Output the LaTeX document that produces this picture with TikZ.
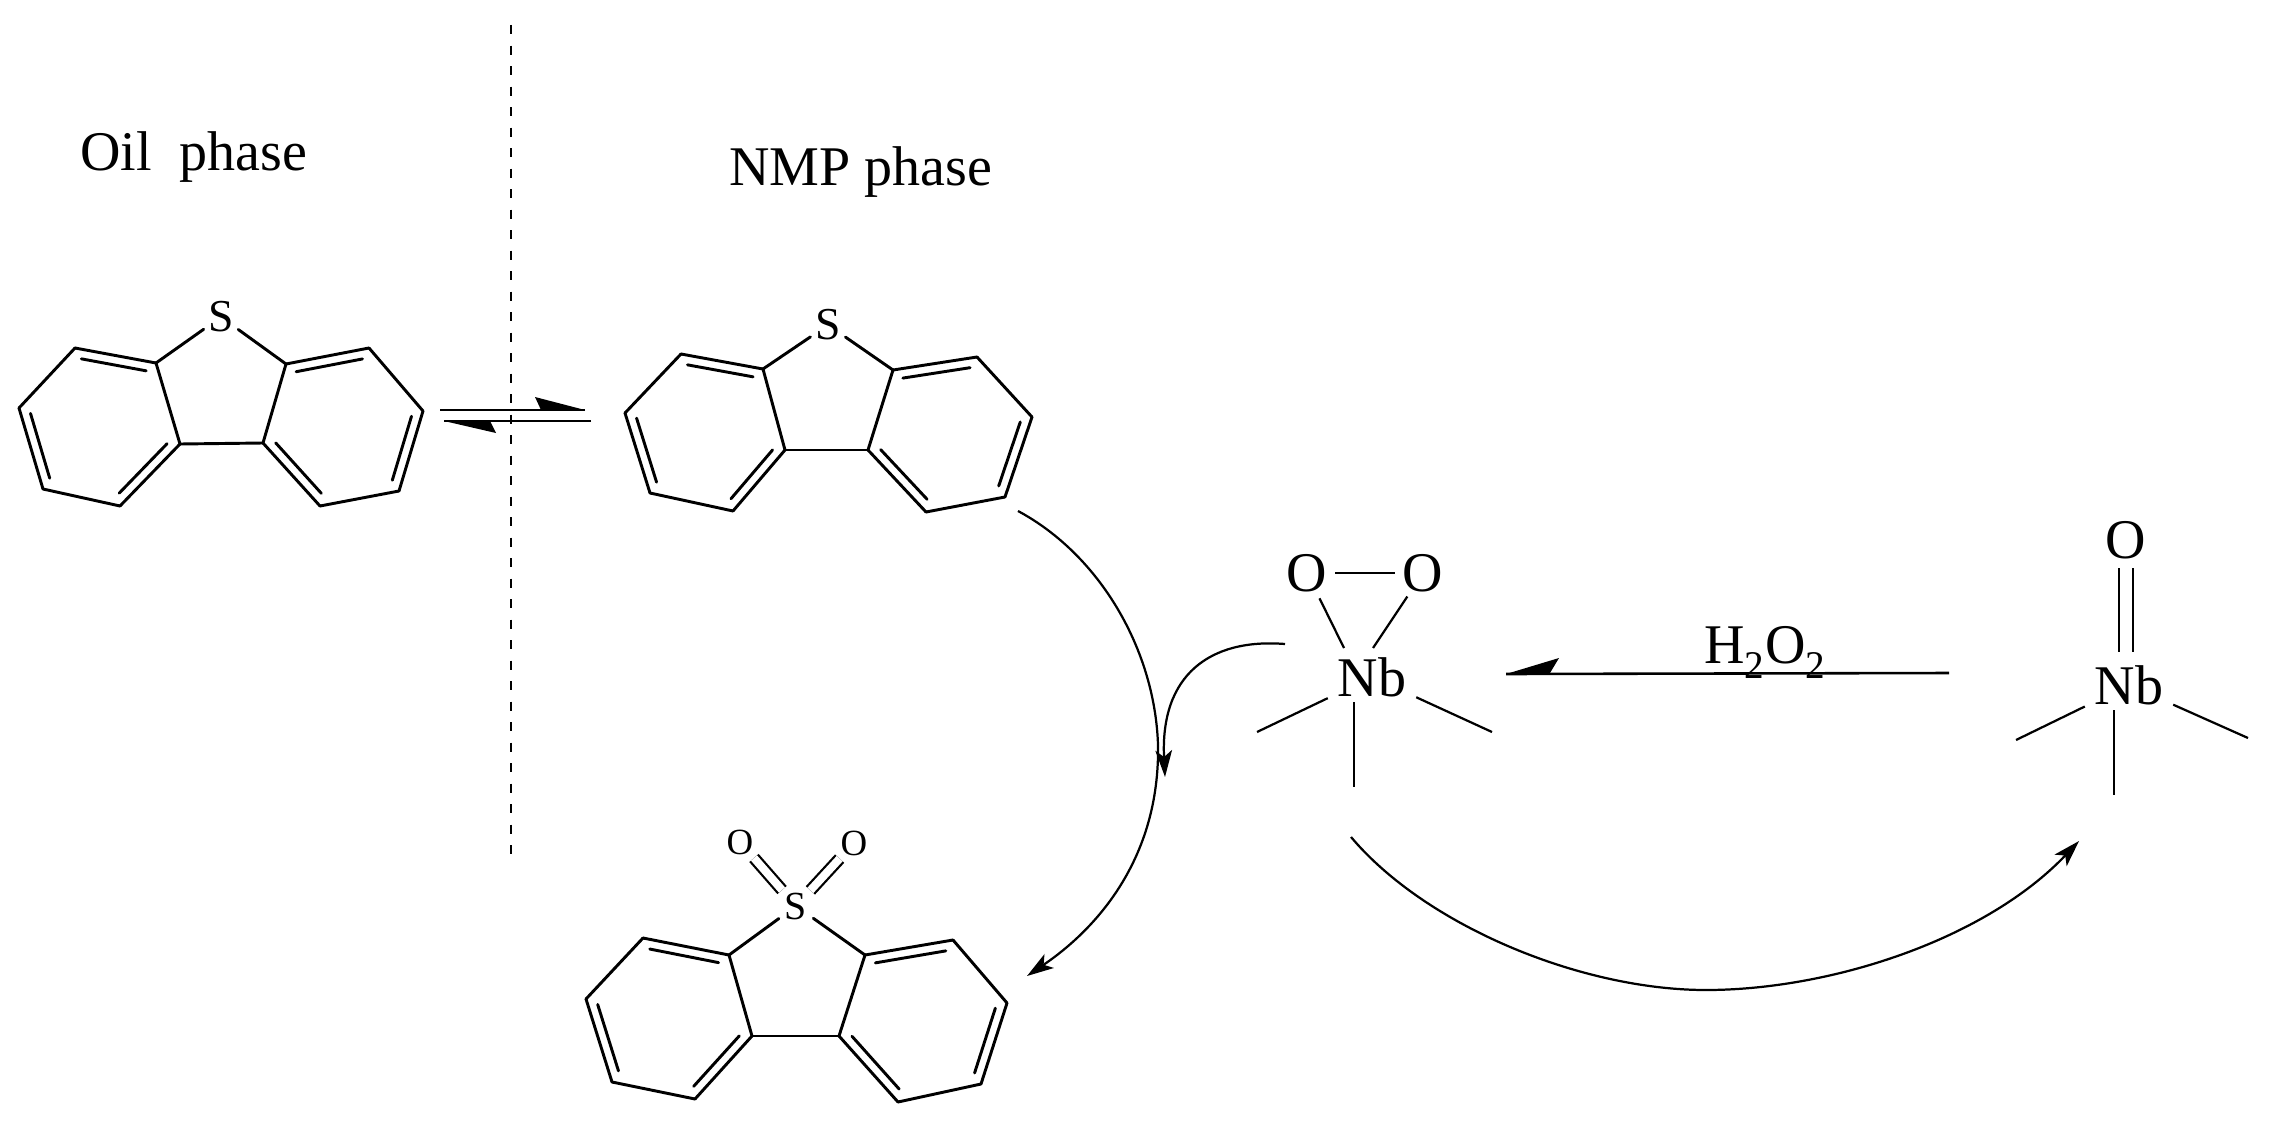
\documentclass[tikz,border=0pt]{standalone}
\usepackage{fontspec}
\setmainfont{Liberation Serif}
\usetikzlibrary{calc,arrows.meta}
\tikzset{
  bond/.style={line width=2.5pt,line cap=round},
  thinbond/.style={line width=1.9pt},
  dblbond/.style={line width=1.9pt,double,double distance=0.24cm},
  curve/.style={line width=1.9pt,-{Stealth[length=0.8cm,width=0.5cm,inset=0.2cm]}},
  smallatom/.style={circle,inner sep=0pt,minimum size=1.26cm,font=\fontsize{31.5}{33}\selectfont},
  sulfur/.style={smallatom,font=\fontsize{39}{41}\selectfont},
  bigatom/.style={circle,inner sep=0pt,minimum size=1.68cm,font=\fontsize{47.8}{50}\selectfont},
  metal/.style={rectangle,inner sep=0pt,minimum width=2.64cm,minimum height=1.5cm,font=\fontsize{47.8}{50}\selectfont},
  label/.style={inner sep=0pt,anchor=base west,font=\fontsize{47.8}{50}\selectfont},
  barb/.style={fill=black,draw=none}
}
% double ring bond: outer line and inner line towards the ring centre
\newcommand{\dbl}[2]{%
  \draw[bond] (#1) -- (#2);
  \draw[bond] ($(#1)!.1!(#2)!0.285cm!-90:(#2)$) -- ($(#1)!.9!(#2)!0.285cm!-90:(#2)$);
}
% whole ring skeleton, from the coordinates named with prefix #1
\newcommand{\skeleton}[1]{%
  \draw[bond] (#1S) -- (#1a1);
  \draw[bond] (#1S) -- (#1a2);
  \draw[bond] (#1a1) -- (#1a3);
  \draw[bond] (#1a2) -- (#1a4);
  \draw[bond] (#1a3) -- (#1a4);
  \dbl{#1l1}{#1a1}
  \draw[bond] (#1l4) -- (#1l1);
  \dbl{#1a3}{#1l2}
  \draw[bond] (#1l2) -- (#1l3);
  \dbl{#1l3}{#1l4}
  \dbl{#1a2}{#1r1}
  \draw[bond] (#1r1) -- (#1r2);
  \dbl{#1r2}{#1r3}
  \draw[bond] (#1r3) -- (#1r4);
  \dbl{#1r4}{#1a4}
}
\begin{document}
\begin{tikzpicture}[x=0.03cm,y=-0.03cm]
\useasboundingbox (0,0) rectangle (2273,1122);
\fill[white] (0,0) rectangle (2273,1122);

% labels
\node[label] (oil) at (80,170) {Oil\ \ phase};
\node[label] (nmp) at (729,185) {NMP phase};

% phase boundary
\coordinate (divtop) at (511,25);
\coordinate (divbot) at (511,860);
\draw[line width=1.6pt,dash pattern=on 0.27cm off 0.345cm] (divtop) -- (divbot);

% molecule 1
\node[sulfur] (mS) at (221,317) {S};
\coordinate (ma1) at (156,363); \coordinate (ma2) at (286,364);
\coordinate (ma3) at (180,444); \coordinate (ma4) at (263,443);
\coordinate (ml1) at (75,348);  \coordinate (ml4) at (19,408);
\coordinate (ml3) at (43,489);  \coordinate (ml2) at (120,506);
\coordinate (mr1) at (369,348); \coordinate (mr2) at (423,411);
\coordinate (mr3) at (399,491); \coordinate (mr4) at (320,506);
\skeleton{m}

% molecule 2
\node[sulfur] (nS) at (828,325) {S};
\coordinate (na1) at (763,369); \coordinate (na2) at (893,370);
\coordinate (na3) at (785,450); \coordinate (na4) at (868,450);
\coordinate (nl1) at (681,354); \coordinate (nl4) at (625,413);
\coordinate (nl3) at (650,493); \coordinate (nl2) at (733,511);
\coordinate (nr1) at (977,357); \coordinate (nr2) at (1032,417);
\coordinate (nr3) at (1005,497);\coordinate (nr4) at (926,512);
\skeleton{n}

% molecule 3 (sulfone)
\node[smallatom,font=\fontsize{34}{36}\selectfont] (pS) at (796,906) {S};
\node[smallatom] (pO1) at (740,842) {O};
\node[smallatom] (pO2) at (854,843) {O};
\coordinate (pa1) at (729,955); \coordinate (pa2) at (865,955);
\coordinate (pa3) at (752,1036);\coordinate (pa4) at (839,1036);
\coordinate (pl1) at (643,938); \coordinate (pl4) at (586,999);
\coordinate (pl3) at (612,1082);\coordinate (pl2) at (695,1099);
\coordinate (pr1) at (953,940); \coordinate (pr2) at (1007,1003);
\coordinate (pr3) at (981,1084);\coordinate (pr4) at (898,1102);
\skeleton{p}
\draw[dblbond] (pS) -- (pO1);
\draw[dblbond] (pS) -- (pO2);

% equilibrium half arrows
\coordinate (e1a) at (440,410); \coordinate (e1b) at (585,410);
\coordinate (e2a) at (591,421); \coordinate (e2b) at (444,421);
\draw[line width=2.2pt] (e1a) -- (e1b);
\draw[line width=2.2pt] (e2a) -- (e2b);
\fill[barb] (e1b) -- (535,397) -- (541,410) -- cycle;
\fill[barb] (e2b) -- (496,433) -- (490,421) -- cycle;

% peroxo niobium
\node[metal] (nbA) at (1372,677) {Nb};
\node[bigatom] (oA1) at (1307,573) {O};
\node[bigatom] (oA2) at (1423,573) {O};
\coordinate (oA1e) at (1344,648);
\coordinate (oA2e) at (1373,648);
\coordinate (nbAl) at (1257,732);
\coordinate (nbAr) at (1492,732);
\coordinate (nbAd) at (1354,787);
\draw[thinbond] (oA1) -- (oA2);
\draw[thinbond] (oA1) -- (oA1e);
\draw[thinbond] (oA2) -- (oA2e);
\draw[thinbond] (nbA) -- (nbAl);
\draw[thinbond] (nbA) -- (nbAr);
\draw[thinbond] (nbA.south -| nbAd) -- (nbAd);

% oxo niobium
\node[metal] (nbB) at (2129,685) {Nb};
\node[bigatom] (oB) at (2126,540) {O};
\coordinate (oBe) at (2126,652);
\coordinate (nbBl) at (2016,740);
\coordinate (nbBr) at (2248,738);
\coordinate (nbBd) at (2114,795);
\draw[thinbond,double,double distance=0.36cm] (oB) -- (oBe);
\draw[thinbond] (nbB) -- (nbBl);
\draw[thinbond] (nbB) -- (nbBr);
\draw[thinbond] (nbB.south -| nbBd) -- (nbBd);

% H2O2 arrow
\coordinate (hs) at (1949,673);
\coordinate (he) at (1506,674);
\node[inner sep=0pt,anchor=base,font=\fontsize{47.8}{50}\selectfont] (h2o2) at (1765,663) {H\textsubscript{2}O\textsubscript{2}};
\draw[line width=2.2pt] (hs) -- (he);
\fill[barb] (he) -- (1559,658) -- (1550,673) -- cycle;

% curved arrows
\coordinate (c1s) at (1018,511);
\coordinate (c1m) at (1158,745);
\coordinate (c1e) at (1027,976);
\draw[curve] (c1s) .. controls (1100,555) and (1155,650) .. (c1m)
                   .. controls (1160,860) and (1095,930) .. (c1e);

\coordinate (c2s) at (1285,644);
\coordinate (c2e) at (1165,777);
\draw[curve] (c2s) .. controls (1210,638) and (1160,675) .. (c2e);

\coordinate (c3s) at (1351,837);
\coordinate (c3m) at (1706,990);
\coordinate (c3e) at (2079,841);
\draw[curve] (c3s) .. controls (1425,925) and (1580,990) .. (c3m)
                   .. controls (1830,990) and (1985,940) .. (c3e);
\end{tikzpicture}
\end{document}
